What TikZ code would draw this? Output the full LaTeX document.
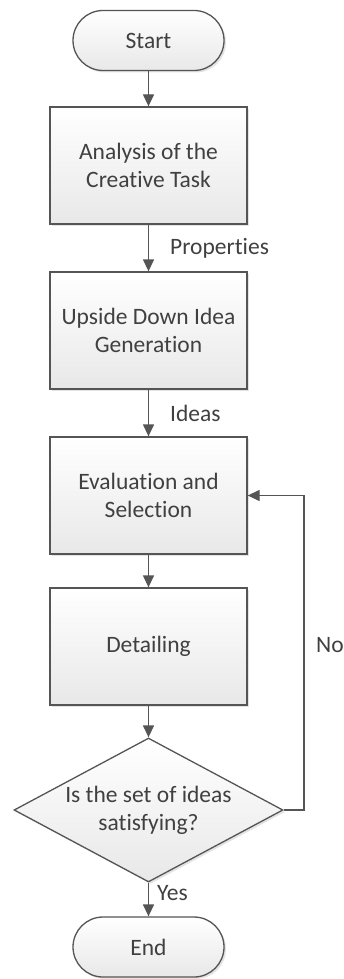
\documentclass[tikz,border=0pt]{standalone}
\usepackage{fontspec}
\setmainfont[Ligatures={NoCommon}]{Carlito}
\usetikzlibrary{shapes.geometric,arrows.meta,shadows}
\definecolor{ink}{HTML}{404040}
\definecolor{edge}{HTML}{555555}
\begin{document}
\begin{tikzpicture}[x=1pt,y=1pt,
  every node/.style={text=ink,font=\fontsize{23.5}{28}\selectfont},
  boxbase/.style={draw=edge,line width=1.3pt,top color=white,bottom color=black!9,
    drop shadow={shadow xshift=2pt,shadow yshift=-2pt,fill=black!18,opacity=0.6}},
  procbox/.style={boxbase,rectangle,minimum width=197pt,minimum height=117pt,inner sep=0pt,align=center},
  termbox/.style={boxbase,rectangle,rounded corners=30pt,minimum width=151pt,minimum height=60pt,inner sep=0pt},
  decbox/.style={boxbase,diamond,minimum width=269pt,minimum height=144pt,inner sep=0pt},
  lbl/.style={anchor=west,inner sep=0pt},
  flow/.style={draw=edge,line width=1.3pt,-{Triangle[width=11pt,length=12pt]}}]
\useasboundingbox (0,0) rectangle (344,-979);
\node[termbox] (start) at (148.5,-40.5) {Start};
\node[procbox] (ana) at (148.5,-165.5) {Analysis of the\\Creative Task};
\node[procbox] (gen) at (148.5,-330.5) {Upside Down Idea\\Generation};
\node[procbox] (eval) at (148.5,-495.5) {Evaluation and\\Selection};
\node[procbox] (det) at (148.5,-646.5) {Detailing};
\node[decbox] (dec) at (148.5,-810) {};
\node[align=center,inner sep=0pt] (dectext) at (148.5,-810) {Is the set of ideas\\satisfying?};
\node[termbox] (end) at (148.5,-947) {End};
\coordinate (loopc) at (304,-810);
\draw[flow] (start) -- (ana);
\draw[flow] (ana) -- (gen);
\draw[flow] (gen) -- (eval);
\draw[flow] (eval) -- (det);
\draw[flow] (det) -- (dec);
\draw[flow] (dec) -- (end);
\draw[flow] (dec.east) -- (loopc) |- (eval.east);
\node[lbl] (lprop) at (170,-248) {Properties};
\node[lbl] (lideas) at (170,-413) {Ideas};
\node[lbl] (lno) at (316,-645) {No};
\node[lbl] (lyes) at (157,-893) {Yes};
\end{tikzpicture}
\end{document}
